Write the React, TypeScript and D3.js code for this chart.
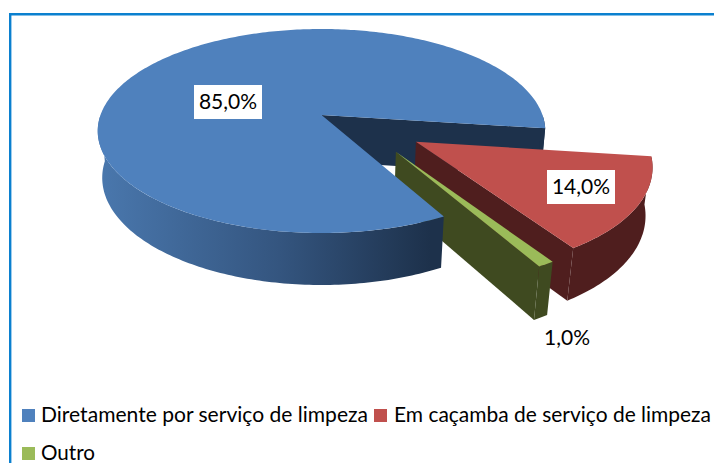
import React from "react";
import * as d3 from "d3";

const categories = ["Diretamente por serviço de limpeza", "Em caçamba de serviço de limpeza", "Outro"];
const shares = [85, 14, 1];
const shareLabels = ["85,0%", "14,0%", "1,0%"];
const topColors = ["#4f81bd", "#c0504d", "#9bbb59"];
const wallColors = ["#1d314b", "#4f1e1e", "#3f4a20"];

const W = 714, H = 463;
const cx = 321.5, cy = 115, R = 221, S = 99.5, K = 0.157, D = 47.2, M = 0.02;
const startDeg = 7.5;
const explode: [number, number][] = [[0, 0], [0.41, 0.258], [0.318, 0.35]];

const project = (u: number, v: number, h: number): [number, number] => {
  const w = 1 - K * v + M * h;
  return [cx + (R * u) / w, cy + (S * v + D * h) / w];
};

const pieGen = d3.pie<number>().sort(null).startAngle(0).endAngle(2 * Math.PI);
const arcs = pieGen([shares[1], shares[2], shares[0]]);
const rad = (a: number) => a + (startDeg * Math.PI) / 180;
const sliceAngles = [
  [rad(arcs[2].startAngle), rad(arcs[2].endAngle)],
  [rad(arcs[0].startAngle), rad(arcs[0].endAngle)],
  [rad(arcs[1].startAngle), rad(arcs[1].endAngle)],
];

const line = d3.line();
const ring = (i: number, a0: number, a1: number, h: number): [number, number][] => {
  const [ox, oy] = explode[i];
  const n = Math.max(2, Math.ceil(Math.abs(a1 - a0) * 60));
  return d3.range(n + 1).map((k) => {
    const a = a0 + ((a1 - a0) * k) / n;
    return project(ox + Math.cos(a), oy + Math.sin(a), h);
  });
};
const wall = (i: number, a0: number, a1: number) =>
  line([...ring(i, a0, a1, 0), ...ring(i, a1, a0, 1)]) + "Z";
const flat = (i: number, a: number) => {
  const [ox, oy] = explode[i];
  return line([
    project(ox, oy, 0),
    project(ox + Math.cos(a), oy + Math.sin(a), 0),
    project(ox + Math.cos(a), oy + Math.sin(a), 1),
    project(ox, oy, 1),
  ]) + "Z";
};
const top = (i: number) => {
  const [ox, oy] = explode[i];
  const [a0, a1] = sliceAngles[i];
  return line([project(ox, oy, 0), ...ring(i, a0, a1, 0)]) + "Z";
};

const font = "Lato, 'Open Sans', sans-serif";
const valueLabels = [
  { x: 228, y: 102, box: true },
  { x: 581, y: 187, box: true },
  { x: 567, y: 338, box: false },
];
const legendRows = [
  { sx: 22, tx: 41, y: 415, len: 327, i: 0 },
  { sx: 374, tx: 394, y: 415, len: 317, i: 1 },
  { sx: 22, tx: 41, y: 453, len: 54, i: 2 },
];

export default function App() {
  const [b0, b1] = sliceAngles[0];
  const [r0, r1] = sliceAngles[1];
  const [g0, g1] = sliceAngles[2];
  return (
    <svg width={W} height={H} viewBox={`0 0 ${W} ${H}`}
      style={{ position: "fixed", left: 0, top: 0, background: "#fff" }}>
      <defs>
        <linearGradient id="blueWall" gradientUnits="userSpaceOnUse" x1={96} x2={430} y1={0} y2={0}>
          <stop offset="0" stopColor="#4a78ae" />
          <stop offset="0.55" stopColor="#34557f" />
          <stop offset="1" stopColor={wallColors[0]} />
        </linearGradient>
      </defs>
      <path d="M714 14.2H10.2V463" fill="none" stroke="#0b80cf" strokeWidth={2.4} />

      <path d={flat(0, b1)} fill={wallColors[0]} />
      <path d={wall(0, 2 * Math.PI, b1)} fill={wallColors[0]} />

      <path d={flat(1, r1)} fill={wallColors[1]} />
      <path d={wall(1, r0, r1)} fill={wallColors[1]} />
      <path d={top(1)} fill={topColors[1]} />

      <path d={flat(2, g1)} fill={wallColors[2]} />
      <path d={wall(2, g0, g1)} fill={wallColors[2]} />
      <path d={top(2)} fill={topColors[2]} />

      <path d={wall(0, b0, Math.PI)} fill="url(#blueWall)" />
      <path d={top(0)} fill={topColors[0]} />

      {valueLabels.map((l, i) => (
        <g key={i}>
          {l.box && <rect x={l.x - 34} y={l.y - 17} width={68} height={34} fill="#fff" />}
          <text x={l.x} y={l.y + 7} textAnchor="middle" fontFamily={font} fontSize={21} fill="#000">
            {shareLabels[i]}
          </text>
        </g>
      ))}
      {legendRows.map((r) => (
        <g key={r.i}>
          <rect x={r.sx} y={r.y - 6} width={13} height={13} fill={topColors[r.i]} />
          <text x={r.tx} y={r.y + 7} fontFamily={font} fontSize={21} fill="#000"
            textLength={r.len} lengthAdjust="spacingAndGlyphs">
            {categories[r.i]}
          </text>
        </g>
      ))}
    </svg>
  );
}
